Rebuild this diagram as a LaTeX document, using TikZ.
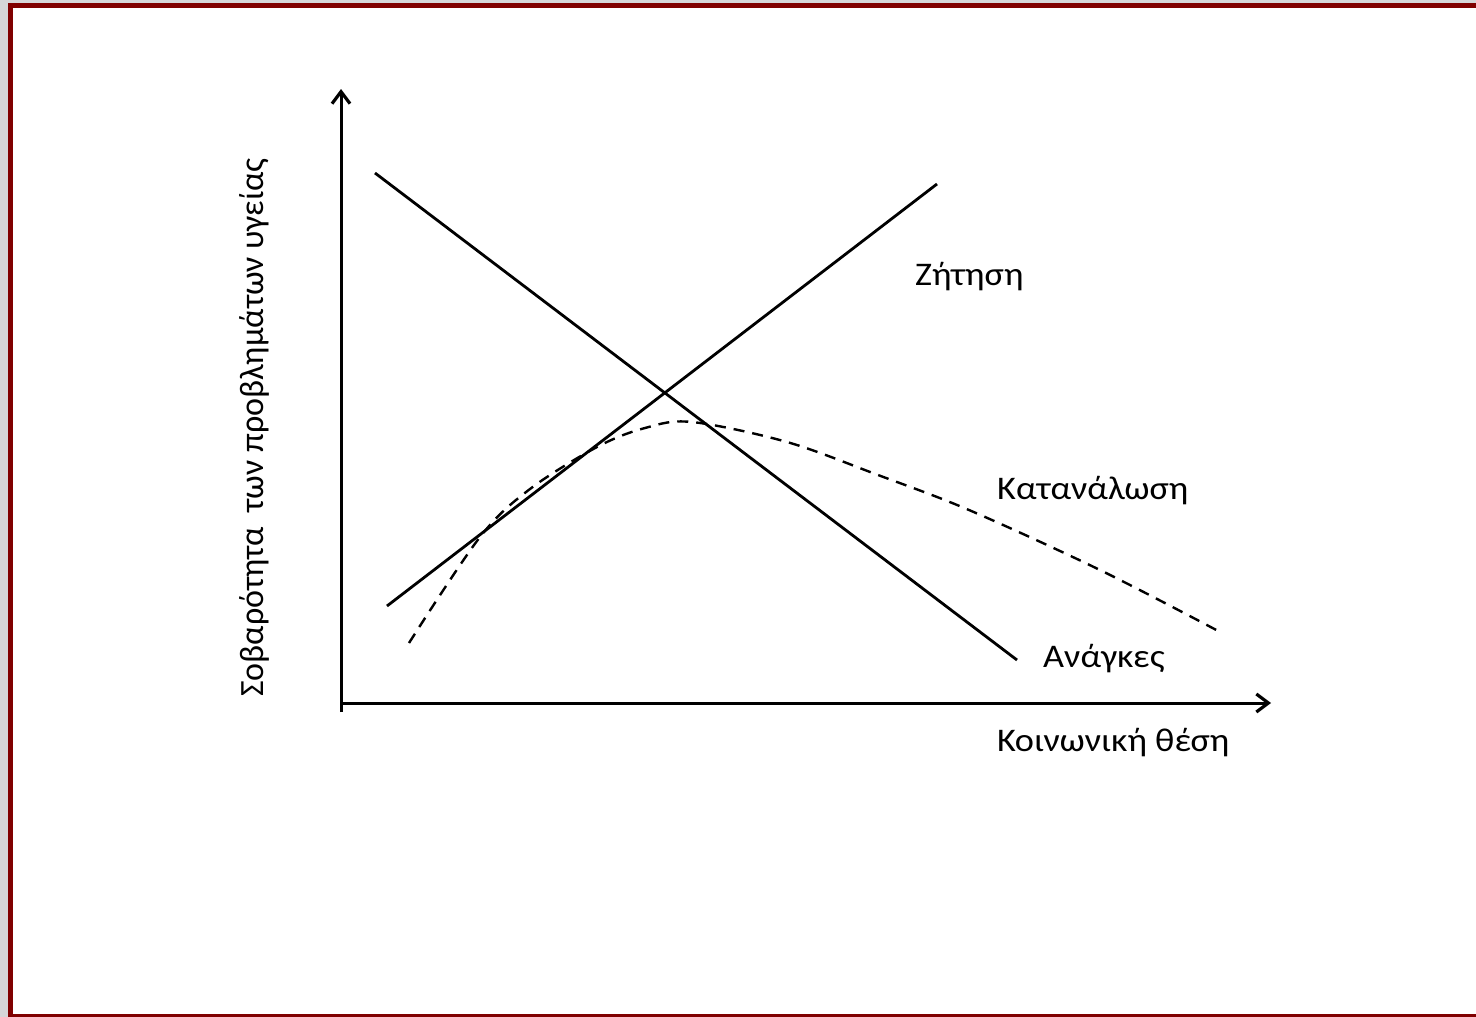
\documentclass[tikz,border=0pt]{standalone}
\usepackage{fontspec}
\setmainfont{Carlito}
\usetikzlibrary{arrows.meta}
\definecolor{framered}{RGB}{128,0,0}
\definecolor{framegray}{RGB}{214,214,216}

\begin{document}
\begin{tikzpicture}[x=1pt, y=-1pt,
        axis/.style={line width=3pt, -{Straight Barb[length=12pt,width=18pt,line width=3.2pt]}},
        trend/.style={line width=2.8pt},
        usage/.style={line width=2.4pt, dash pattern=on 11pt off 8pt},
        lbl/.style={font=\fontsize{33}{38}\selectfont, inner sep=0pt, anchor=base west, xscale=1.1}]
            \useasboundingbox (0,0) rectangle (1476,1017);
            % frame
            \fill [framegray] (0,0) rectangle (1476,1017);
            \fill [framered] (8,3) rectangle (1476,1017);
            \fill [white] (13,8) rectangle (1476,1014);
            % axes
            \coordinate (ybot) at (341,712);
            \coordinate (ytop) at (341,89);
            \coordinate (xleft) at (341,703);
            \coordinate (xright) at (1271,703);
            \draw [axis] (ybot) -- (ytop);
            \draw [axis] (xleft) -- (xright);
            \node [lbl] (xlabel) at (997,751) {Κοινωνική θέση};
            \node [lbl, xscale=1/1.1, font=\fontsize{34}{40}\selectfont, rotate=90] (ylabel) at (263,697) {Σοβαρότητα \ των προβλημάτων υγείας};
            % needs and demand
            \coordinate (needs1) at (375,173);
            \coordinate (needs2) at (1017,660);
            \coordinate (demand1) at (387,606);
            \coordinate (demand2) at (937,184);
            \draw [trend] (needs1) -- (needs2);
            \draw [trend] (demand1) -- (demand2);
            % consumption
            \draw [usage] plot[smooth, tension=0.55] coordinates
                {(409,643) (480,537) (530,489) (597,447) (645,428) (692,422) (787,442) (878,475) (969,510) (1100,570) (1222,633)};
            \node [lbl] (demand) at (915,285) {Ζήτηση};
            \node [lbl] (usage) at (997,499) {Κατανάλωση};
            \node [lbl] (needs) at (1043,667) {Ανάγκες};
        \end{tikzpicture}
\end{document}
